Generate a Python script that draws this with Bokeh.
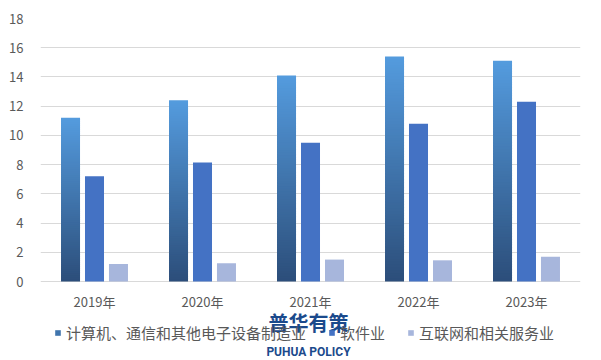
from bokeh.plotting import figure
from bokeh.models import (ColumnDataSource, FactorRange, Range1d, FixedTicker,
                          Legend, LegendItem, Label)
from bokeh.transform import dodge
from bokeh.core.properties import value
from bokeh.embed import file_html
from bokeh.resources import INLINE

years = ["2019年", "2020年", "2021年", "2022年", "2023年"]
computer = [11.2, 12.4, 14.1, 15.4, 15.1]
software = [7.2, 8.15, 9.5, 10.8, 12.3]
internet = [1.2, 1.25, 1.5, 1.45, 1.7]
series_names = ["计算机、通信和其他电子设备制造业", "软件业", "互联网和相关服务业"]
y_ticks = [0, 2, 4, 6, 8, 10, 12, 14, 16, 18]

FONT = "Noto Sans CJK SC"
TXT = "#595959"

W, H = 601, 360
TOP, BOTTOM_PX = 18, 281          # pixel rows of 18 and 0
frame_h = H - TOP
y_max = 18
y_min = -(H - BOTTOM_PX) * y_max / (BOTTOM_PX - TOP)

p = figure(width=W, height=H, x_range=FactorRange(*years), y_range=Range1d(y_min, y_max),
           output_backend="svg", toolbar_location=None, x_axis_location=None,
           min_border_left=40, min_border_right=21, min_border_top=TOP, min_border_bottom=0)
p.outline_line_color = None
p.background_fill_color = "white"
p.border_fill_color = "white"

# gradient slices for the first series (dark at bottom, light at top)
N = 80
top_rgb = (84, 155, 222)
bot_rgb = (44, 78, 122)
sx, sb, st, sc = [], [], [], []
for yr, v in zip(years, computer):
    for i in range(N):
        f = (i + 0.5) / N
        r = int(round(bot_rgb[0] + (top_rgb[0] - bot_rgb[0]) * f))
        g = int(round(bot_rgb[1] + (top_rgb[1] - bot_rgb[1]) * f))
        b = int(round(bot_rgb[2] + (top_rgb[2] - bot_rgb[2]) * f))
        sx.append(yr)
        sb.append(v * i / N)
        st.append(min(v, v * (i + 1.6) / N))
        sc.append("#%02x%02x%02x" % (r, g, b))
grad = ColumnDataSource(dict(year=sx, bottom=sb, top=st, color=sc))
src = ColumnDataSource(dict(year=years, software=software, internet=internet,
                            zero=[0] * len(years)))

bw = 0.176
r1 = p.vbar(x=dodge("year", -0.222, range=p.x_range), bottom="bottom", top="top", width=bw,
            source=grad, fill_color="color", line_color=None)
r2 = p.vbar(x=dodge("year", 0.0, range=p.x_range), top="software", width=bw, source=src,
            fill_color="#4472c4", line_color=None)
r3 = p.vbar(x=dodge("year", 0.222, range=p.x_range), top="internet", width=bw, source=src,
            fill_color="#a7b6dc", line_color=None)

# category labels under the baseline
p.text(x="year", y="zero", text="year", source=src, y_offset=20,
       text_font=value(FONT), text_font_size="13px", text_color=TXT,
       text_align="center", text_baseline="middle")

# y axis
p.yaxis.ticker = FixedTicker(ticks=y_ticks)
p.yaxis.axis_line_color = None
p.yaxis.major_tick_line_color = None
p.yaxis.minor_tick_line_color = None
p.yaxis.major_label_standoff = 11
p.yaxis.major_label_text_font = FONT
p.yaxis.major_label_text_font_size = "13px"
p.yaxis.major_label_text_color = TXT

p.xgrid.grid_line_color = None
p.ygrid.ticker = FixedTicker(ticks=y_ticks)
p.ygrid.grid_line_color = "#d9d9d9"
p.ygrid.grid_line_width = 1

legend = Legend(items=[
    LegendItem(label=series_names[0], renderers=[r1], index=N // 2),
    LegendItem(label=series_names[1], renderers=[r2]),
    LegendItem(label=series_names[2], renderers=[r3]),
], orientation="horizontal", location=(14, 17))
legend.padding = 0
legend.margin = 0
legend.spacing = 22
legend.glyph_width = 7
legend.glyph_height = 7
legend.label_standoff = 5
legend.label_height = 16
legend.label_text_font = FONT
legend.label_text_font_size = "15px"
legend.label_text_color = TXT
legend.border_line_color = None
legend.background_fill_alpha = 0
p.add_layout(legend, "center")

wm1 = Label(x=268, y=38, x_units="screen", y_units="screen", text="普华有策",
            text_font=FONT, text_font_style="bold", text_font_size="20px",
            text_color="#1b4a8c", text_align="center", text_baseline="middle")
wm2 = Label(x=268, y=9, x_units="screen", y_units="screen", text="PUHUA POLICY",
            text_font="Roboto", text_font_style="bold", text_font_size="12px",
            text_color="#1b4a8c", text_align="center", text_baseline="middle")
p.add_layout(wm1)
p.add_layout(wm2)

open("out.html", "w").write(file_html(p, INLINE))
